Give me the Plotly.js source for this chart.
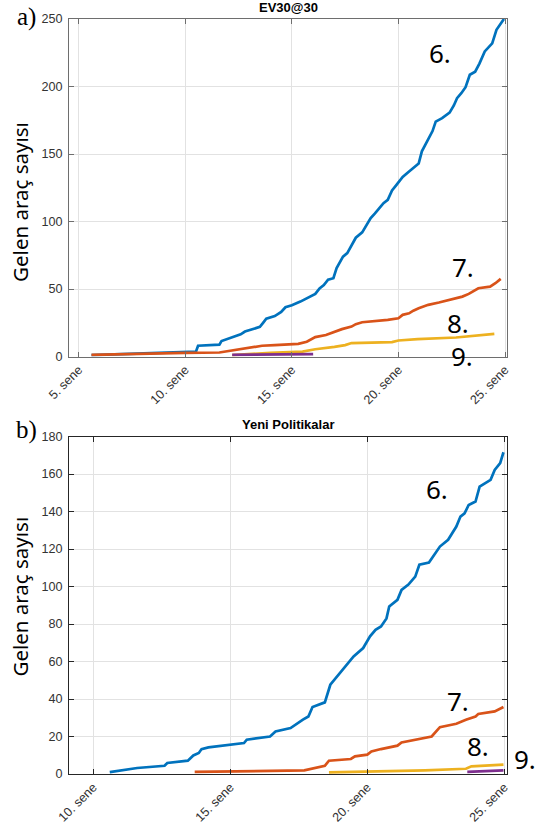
<!DOCTYPE html>
<html>
<head>
<meta charset="utf-8">
<script src="https://cdn.plot.ly/plotly-3.0.1.min.js"></script>
<style>
  html, body { margin: 0; padding: 0; background: #fff; }
  #chart { width: 550px; height: 833px; }
</style>
</head>
<body>
<div id="chart"></div>
<script>
// Panel a) EV30@30 — cumulative arriving vehicles per year
const evYears6 = [5.6, 6.5, 7.5, 8.5, 9.5, 10.5, 10.6, 11.6, 11.7, 12.0, 12.3, 12.6, 12.8, 13.1, 13.5, 13.65, 13.8, 14.2, 14.5, 14.7, 15.0, 15.4, 15.8, 16.1, 16.3, 16.5, 16.7, 16.95, 17.1, 17.4, 17.6, 17.8, 18.0, 18.3, 18.5, 18.7, 18.9, 19.1, 19.3, 19.5, 19.7, 19.9, 20.1, 20.2, 20.5, 20.7, 20.95, 21.1, 21.4, 21.6, 21.75, 22.05, 22.4, 22.6, 22.75, 22.95, 23.15, 23.35, 23.6, 23.8, 24.05, 24.4, 24.6, 24.85, 24.95];
const evCount6 = [1, 1.5, 2, 2.5, 3, 3.6, 8, 8.8, 11.5, 13, 15, 16.5, 18.5, 20, 22, 25, 28, 30, 33, 36.5, 38, 40.7, 43.7, 46.4, 50.5, 53, 57, 58, 65.5, 74, 76.6, 82, 88, 92, 97, 102.5, 106, 110, 113.6, 116, 123, 127, 131, 133, 137, 140, 143, 152, 160.5, 167, 174, 176.6, 180.7, 186, 191.4, 195, 199.5, 208.7, 211, 217, 226, 232, 242, 248, 250];

const evYears7 = [5.6, 7, 8.5, 10, 11.6, 12.0, 12.3, 12.8, 13.2, 13.6, 14.2, 14.8, 15.3, 15.7, 15.9, 16.1, 16.6, 17.0, 17.35, 17.8, 18.0, 18.3, 18.9, 19.5, 20.0, 20.2, 20.5, 20.7, 20.95, 21.4, 21.9, 22.5, 23.0, 23.3, 23.5, 23.75, 24.3, 24.55, 24.8];
const evCount7 = [1.2, 1.8, 2.2, 2.7, 3, 4, 5, 6, 6.7, 8, 8.4, 8.8, 9.4, 11, 12.5, 14.4, 16, 18.5, 20.3, 22.2, 24, 25.4, 26.2, 27.2, 28.4, 30.9, 32, 34, 35.8, 38.3, 40, 42.5, 44.4, 46.4, 48, 50.6, 51.8, 54.3, 57.5];

const evYears8 = [12.2, 13, 14, 15.5, 16.1, 17.0, 17.5, 17.8, 18.5, 19.7, 20.0, 20.9, 22.7, 23.6, 24.5];
const evCount8 = [1, 1.8, 2.8, 3.7, 5.4, 7.2, 8.5, 10, 10.3, 10.7, 11.9, 12.9, 14.1, 15.6, 16.8];

const evYears9 = [12.2, 13, 14, 15, 16.0];
const evCount9 = [1.3, 1.4, 1.5, 1.6, 1.8];

// Panel b) Yeni Politikalar
const npYears6 = [10.6, 11.45, 11.6, 12.6, 12.7, 13.45, 13.65, 13.85, 13.95, 14.2, 15.0, 15.5, 15.6, 16.45, 16.65, 17.2, 17.65, 17.85, 18.0, 18.45, 18.65, 19.1, 19.25, 19.5, 19.85, 20.1, 20.3, 20.5, 20.7, 20.8, 21.1, 21.25, 21.5, 21.75, 21.9, 22.25, 22.65, 22.95, 23.25, 23.4, 23.55, 23.7, 23.95, 24.1, 24.5, 24.65, 24.85, 24.97];
const npCount6 = [1, 2.8, 3.2, 4.4, 5.9, 7.1, 9.9, 11.2, 13.3, 14.2, 15.6, 16.5, 18.3, 20, 22.7, 24.5, 29, 30.7, 35.7, 38.2, 47.6, 55.6, 58.3, 62.7, 67.2, 73.4, 76.9, 78.7, 83, 89.3, 92.9, 98.2, 101, 105.3, 111.6, 112.8, 121.3, 124.9, 132, 137.3, 139, 143.5, 145.3, 153.3, 156.9, 162.2, 165.8, 171.6];

const npYears7 = [13.7, 15.5, 17.7, 18.45, 18.6, 19.4, 19.55, 20.0, 20.15, 20.5, 20.8, 21.1, 21.25, 22.35, 22.65, 23.25, 23.6, 23.95, 24.05, 24.65, 24.97];
const npCount7 = [1.1, 1.4, 1.9, 4.4, 7.1, 8, 9.4, 10.3, 12, 13.3, 14.4, 15.1, 16.8, 20, 25, 26.8, 28.9, 30.7, 32, 33.4, 35.7];

const npYears8 = [18.6, 20, 22.1, 23.6, 23.8, 24.97];
const npCount8 = [0.9, 1.2, 1.9, 2.8, 4.1, 5];

const npYears9 = [23.65, 24.3, 24.97];
const npCount9 = [1.1, 1.5, 1.9];

// Axis ticks
const evTickVals = [5, 10, 15, 20, 25];
const evTickText = ['5. sene', '10. sene', '15. sene', '20. sene', '25. sene'];
const npTickVals = [10, 15, 20, 25];
const npTickText = ['10. sene', '15. sene', '20. sene', '25. sene'];

const seriesNames = ['6.', '7.', '8.', '9.'];
const colors = ['#0072BD', '#D95319', '#EDB120', '#7E2F8E'];

function line(x, y, i, xa, ya) {
  return {
    x: x, y: y, xaxis: xa, yaxis: ya, type: 'scatter', mode: 'lines',
    name: seriesNames[i], showlegend: false,
    line: { color: colors[i], width: 2.7 }
  };
}

const traces = [
  line(evYears6, evCount6, 0, 'x', 'y'),
  line(evYears7, evCount7, 1, 'x', 'y'),
  line(evYears8, evCount8, 2, 'x', 'y'),
  line(evYears9, evCount9, 3, 'x', 'y'),
  line(npYears6, npCount6, 0, 'x2', 'y2'),
  line(npYears7, npCount7, 1, 'x2', 'y2'),
  line(npYears8, npCount8, 2, 'x2', 'y2'),
  line(npYears9, npCount9, 3, 'x2', 'y2')
];

const tickFont = { family: 'Liberation Sans, Arial, sans-serif', size: 12.6, color: '#333333' };
const gridColor = '#e2e2e2';

function xAxis(range, vals, text, anchor, lineColor) {
  return {
    anchor: anchor, range: range, tickmode: 'array', tickvals: vals, ticktext: text,
    tickangle: -45, tickfont: tickFont, showgrid: true, gridcolor: gridColor, gridwidth: 1,
    zeroline: false, showline: true, linecolor: lineColor, linewidth: 1, mirror: 'ticks',
    ticks: 'inside', ticklen: 5, tickcolor: lineColor, fixedrange: true
  };
}
function yAxis(domain, range, dtick, anchor, lineColor) {
  return {
    anchor: anchor, domain: domain, range: range, dtick: dtick, tick0: 0,
    tickfont: tickFont, showgrid: true, gridcolor: gridColor, gridwidth: 1,
    zeroline: false, showline: true, linecolor: lineColor, linewidth: 1, mirror: 'ticks',
    ticks: 'inside', ticklen: 5, tickcolor: lineColor, ticklabelstandoff: 3, fixedrange: true
  };
}

const labelFont = { family: 'Noto Sans, sans-serif', size: 26, color: '#000' };
function lbl(text, x, y, font) {
  return { text: text, xref: 'paper', yref: 'paper', x: x, y: y,
           xanchor: 'center', yanchor: 'middle', showarrow: false, font: font || labelFont };
}
const titleFont = { family: 'Liberation Sans, Arial, sans-serif', size: 13, color: '#000', weight: 'bold' };
const yTitleFont = { family: 'Noto Sans, sans-serif', size: 20.5, color: '#000' };
const panelFont = { family: 'Liberation Serif, serif', size: 25, color: '#000' };

const layout = {
  width: 550, height: 833,
  margin: { l: 69, r: 43.3, t: 19, b: 58.7 },
  paper_bgcolor: '#ffffff', plot_bgcolor: '#ffffff',
  showlegend: false,
  xaxis: xAxis([4.545, 25.094], evTickVals, evTickText, 'y', '#6e6e6e'),
  yaxis: yAxis([0.5529, 1], [0, 250], 50, 'x', '#6e6e6e'),
  xaxis2: xAxis([9.112, 25.099], npTickVals, npTickText, 'y2', '#262626'),
  yaxis2: yAxis([0, 0.447], [0, 180], 20, 'x2', '#262626'),
  annotations: [
    lbl('EV30@30', 0.5, 1.0146, titleFont),
    lbl('Yeni Politikalar', 0.5, 0.4626, titleFont),
    lbl('a)', -0.096, 1.0027, panelFont),
    lbl('b)', -0.096, 0.4558, panelFont),
    Object.assign(lbl('Gelen araç sayısı', -0.112, 0.7577, yTitleFont), { textangle: -90 }),
    Object.assign(lbl('Gelen araç sayısı', -0.112, 0.2350, yTitleFont), { textangle: -90 }),
    lbl('6.', 0.848, 0.955),
    lbl('7.', 0.900, 0.6717),
    lbl('8.', 0.889, 0.5977),
    lbl('9.', 0.898, 0.5540),
    lbl('6.', 0.841, 0.3779),
    lbl('7.', 0.889, 0.0970),
    lbl('8.', 0.934, 0.0375),
    lbl('9.', 1.042, 0.0203)
  ]
};

Plotly.newPlot('chart', traces, layout, { displayModeBar: false, staticPlot: true });
</script>
</body>
</html>
